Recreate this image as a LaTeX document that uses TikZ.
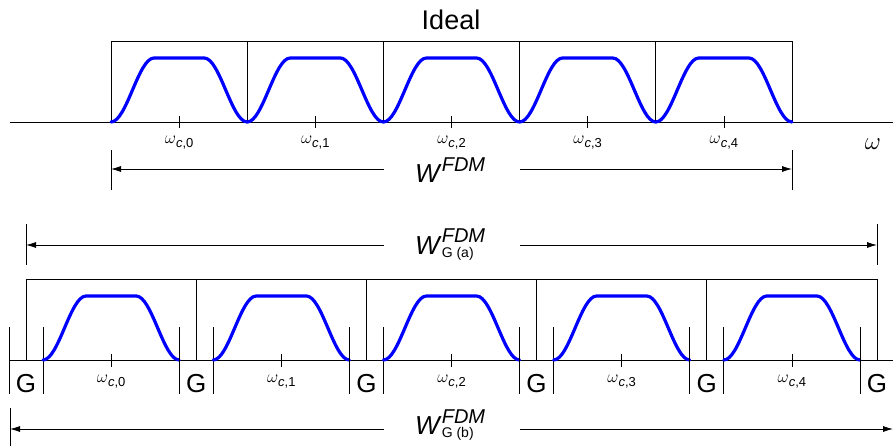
\documentclass[tikz,border=0pt]{standalone}
\usepackage{fontspec}
\setmainfont{Liberation Sans}
\usepackage{tikz}
\usetikzlibrary{arrows.meta}

\definecolor{fdmblue}{RGB}{0,0,255}
\tikzset{
  base line/.style={line width=0.8pt, black},
  pulse/.style={line width=3.2pt, fdmblue, line cap=round, line join=round},
  chan label/.style={inner sep=0pt, anchor=base},
  big label/.style={inner sep=0pt, font=\fontsize{26}{26}\selectfont}
}
\newcommand{\wc}[1]{{\fontsize{19}{19}\selectfont$\omega$}\raisebox{-4pt}{\fontsize{13}{13}\selectfont\textit{c},#1}}
\newcommand{\fdm}{\raisebox{11pt}{\fontsize{20}{20}\selectfont\itshape FDM}}
\newcommand{\gsub}[1]{\raisebox{-3.5pt}{\fontsize{14}{14}\selectfont G (#1)}}

\begin{document}
\begin{tikzpicture}[x=1pt, y=-1pt, >={Latex[length=10pt,width=6pt]}]
\useasboundingbox (0,0) rectangle (893,446);

% Ideal channels
\node[big label, anchor=base, font=\fontsize{27}{27}\selectfont] (ideal) at (451,30) {Ideal};
\draw[base line] (10,122) -- (893,122);
\draw[base line] (111,122) -- (111,41) -- (792,41) -- (792,122);
\foreach \k in {0,...,4} {
  \pgfmathsetmacro\xa{111+136.2*\k}
  \pgfmathsetmacro\xc{\xa+68.1}
  \draw[base line] (\xa,41) -- (\xa,122);
  \draw[pulse] (\xa,122) cos ++(21.5,-32) sin ++(21.5,-32) -- ++(50.2,0)
    cos ++(21.5,32) sin ++(21.5,32);
  \draw[base line] (\xc,116) -- (\xc,128);
  \node[chan label] (ct\k) at (\xc,144) {\wc{\k}};
}
\node[big label, anchor=base] (omega) at (873,150) {$\omega$};

% W^FDM
\node[big label, anchor=base west] (wfdm) at (415,183) {\textit{W}\fdm};
\coordinate (wfl) at (384,169);
\coordinate (wfr) at (520,169);
\coordinate (wfa) at (111,169);
\coordinate (wfb) at (792,169);
\draw[base line] (111,150) -- (111,190) (792,150) -- (792,190);
\draw[base line, ->] (wfl) -- (wfa);
\draw[base line, ->] (wfr) -- (wfb);

% W_G(a)
\node[big label, anchor=base west] (wga) at (415,254) {\textit{W}\rlap{\fdm}\gsub{a}};
\coordinate (wgal) at (384,245);
\coordinate (wgar) at (520,245);
\coordinate (wgaa) at (26,245);
\coordinate (wgab) at (877,245);
\draw[base line] (26,224) -- (26,265) (877,224) -- (877,265);
\draw[base line, ->] (wgal) -- (wgaa);
\draw[base line, ->] (wgar) -- (wgab);

% Channels with guard bands
\draw[base line] (10,360) -- (893,360);
\draw[base line] (26,360) -- (26,279) -- (877,279) -- (877,360);
\foreach \k in {0,...,4} {
  \pgfmathsetmacro\xa{26+170.2*\k}
  \pgfmathsetmacro\xc{\xa+85.1}
  \draw[base line] (\xa,279) -- (\xa,360);
  \draw[base line] (\xa-17,327) -- (\xa-17,394) (\xa+17,327) -- (\xa+17,394);
  \node[big label, anchor=base] (g\k) at (\xa,392) {G};
  \draw[pulse] (\xa+17,360) cos ++(21.5,-32) sin ++(21.5,-32) -- ++(50.2,0)
    cos ++(21.5,32) sin ++(21.5,32);
  \draw[base line] (\xc,354) -- (\xc,367);
  \node[chan label] (cb\k) at (\xc,382) {\wc{\k}};
}
\draw[base line] (860,327) -- (860,394);
\node[big label, anchor=base] (g5) at (877,392) {G};

% W_G(b)
\node[big label, anchor=base west] (wgb) at (415,434) {\textit{W}\rlap{\fdm}\gsub{b}};
\coordinate (wgbl) at (384,429);
\coordinate (wgbr) at (520,429);
\coordinate (wgba) at (10,429);
\coordinate (wgbb) at (893,429);
\draw[base line] (10,408) -- (10,446);
\draw[base line, ->] (wgbl) -- (wgba);
\draw[base line, ->] (wgbr) -- (wgbb);

\end{tikzpicture}
\end{document}
